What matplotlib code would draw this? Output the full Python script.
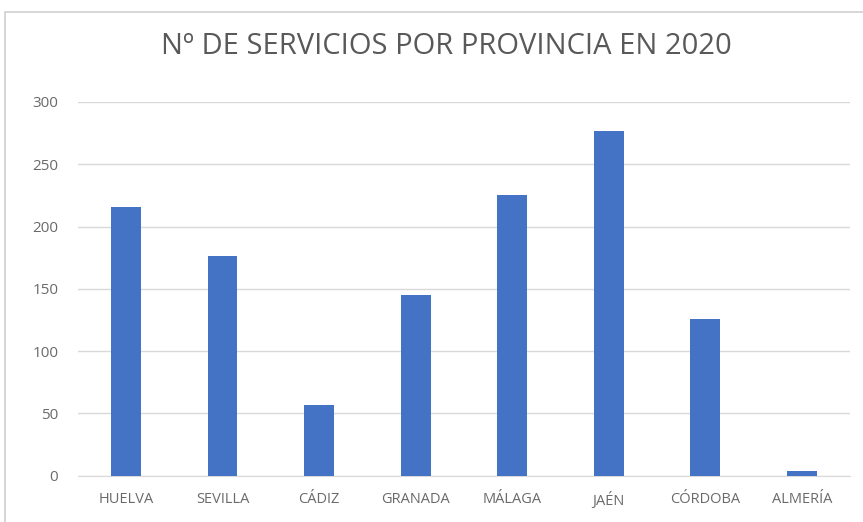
import matplotlib.pyplot as plt
from matplotlib.patches import Rectangle

# Servicios por provincia (2020)
provincias = ["HUELVA", "SEVILLA", "CÁDIZ", "GRANADA", "MÁLAGA", "JAÉN", "CÓRDOBA", "ALMERÍA"]
servicios = [216, 176, 57, 145, 225, 277, 126, 4]
yticks = [0, 50, 100, 150, 200, 250, 300]

plt.rcParams['font.family'] = ['Open Sans', 'DejaVu Sans']

fig = plt.figure(figsize=(8.63, 5.22), dpi=100)
ax = fig.add_axes([0.090, 0.0887, 0.895, 0.716])

ax.bar(range(len(provincias)), servicios, width=0.31, color="#4472C4", zorder=3)

ax.set_xlim(-0.5, len(provincias) - 0.5)
ax.set_ylim(0, 300)
ax.set_yticks(yticks)
ax.set_xticks(range(len(provincias)))
ax.set_xticklabels(provincias)
ax.grid(axis="y", color="#D9D9D9", linewidth=1, zorder=0)
ax.tick_params(length=0, colors="#6A6A6A")
ax.tick_params(axis="x", pad=12, labelsize=10.5)
ax.tick_params(axis="y", pad=14, labelsize=11)
for side in ["top", "right", "left"]:
    ax.spines[side].set_visible(False)
ax.spines["bottom"].set_color("#D9D9D9")

fig.text(0.517, 0.91, "Nº DE SERVICIOS POR PROVINCIA EN 2020",
         ha="center", va="center", fontsize=21, color="#595959")

# marco exterior del gráfico
fig.patches.append(Rectangle((5 / 863, -0.02), 1.0, 1 - 12 / 522 + 0.02,
                             transform=fig.transFigure, fill=False,
                             edgecolor="#D0D0D0", linewidth=1.2))

fig.savefig("out.png", dpi=100)
